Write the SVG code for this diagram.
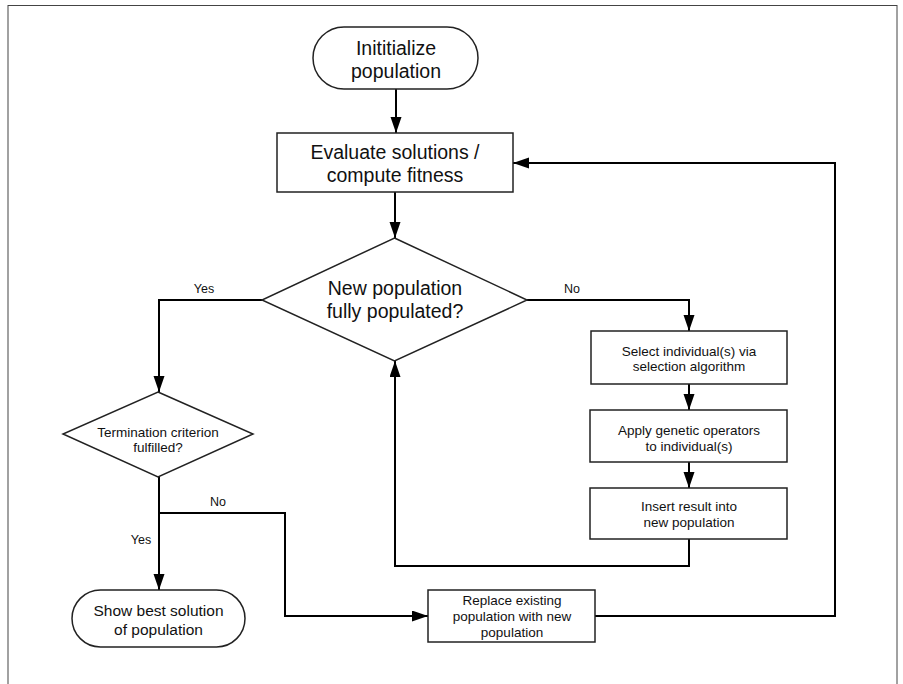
<svg xmlns="http://www.w3.org/2000/svg" width="903" height="684" viewBox="0 0 903 684">
<defs>
<marker id="arr" markerUnits="userSpaceOnUse" markerWidth="17" markerHeight="12" refX="16" refY="5.5" orient="auto">
<path d="M0,0 L16,5.5 L0,11 z" fill="#000"/>
</marker>
<style>
.node{fill:#fff;stroke:#222;stroke-width:1.5}
.t{font-family:"Liberation Sans",Arial,sans-serif;fill:#111;text-anchor:middle}
.big{font-size:19.5px}
.mid{font-size:15.5px}
.sm{font-size:13.5px}
.lbl{font-size:12.5px}
.c{fill:none;stroke:#000;stroke-width:2}
.ca{fill:none;stroke:#000;stroke-width:2;marker-end:url(#arr)}
</style>
</defs>
<rect x="0" y="0" width="903" height="684" fill="#fff"/>
<rect id="frame" x="8" y="5.5" width="889" height="700" fill="none" stroke="#444" stroke-width="1"/>

<g id="connectors">
<path class="ca" d="M396,89 L396,133"/>
<path class="ca" d="M395,192 L395,238"/>
<path class="ca" d="M262,300 L159,300 L159,392"/>
<path class="ca" d="M527,300 L689,300 L689,331"/>
<path class="ca" d="M689,384 L689,410"/>
<path class="ca" d="M689,462 L689,488"/>
<path class="ca" d="M689,539 L689,566 L395,566 L395,361"/>
<path class="ca" d="M159,477 L159,590"/>
<path class="ca" d="M159,513 L285,513 L285,616 L428,616"/>
<path class="ca" d="M595,616 L835,616 L835,163 L513,163"/>
<text class="t lbl" x="204" y="293">Yes</text>
<text class="t lbl" x="572" y="293">No</text>
<text class="t lbl" x="218" y="506">No</text>
<text class="t lbl" x="141" y="544">Yes</text>
</g>

<g id="init">
<rect class="node" x="313" y="27" width="165" height="62" rx="31" ry="31"/>
<text class="t big" x="396" y="55">Inititialize</text>
<text class="t big" x="396" y="78">population</text>
</g>

<g id="evaluate">
<rect class="node" x="277" y="133" width="236" height="59"/>
<text class="t big" x="395" y="159">Evaluate solutions /</text>
<text class="t big" x="395" y="182">compute fitness</text>
</g>

<g id="full">
<polygon class="node" points="394.5,238 527,300 394.5,361 262,300"/>
<text class="t big" x="395" y="295">New population</text>
<text class="t big" x="395" y="318">fully populated?</text>
</g>

<g id="select">
<rect class="node" x="591" y="331" width="196" height="53"/>
<text class="t sm" x="689" y="356">Select individual(s) via</text>
<text class="t sm" x="689" y="371">selection algorithm</text>
</g>

<g id="apply">
<rect class="node" x="590" y="410" width="197" height="52"/>
<text class="t sm" x="689" y="435">Apply genetic operators</text>
<text class="t sm" x="689" y="451">to individual(s)</text>
</g>

<g id="insert">
<rect class="node" x="590" y="488" width="197" height="51"/>
<text class="t sm" x="689" y="511">Insert result into</text>
<text class="t sm" x="689" y="527">new population</text>
</g>

<g id="termination">
<polygon class="node" points="158,392 253,434 158,477 63,434"/>
<text class="t sm" x="158" y="437">Termination criterion</text>
<text class="t sm" x="158" y="452">fulfilled?</text>
</g>

<g id="show">
<rect class="node" x="72" y="590" width="173" height="57" rx="28.5" ry="28.5"/>
<text class="t mid" x="158.5" y="616">Show best solution</text>
<text class="t mid" x="158.5" y="635">of population</text>
</g>

<g id="replace">
<rect class="node" x="428" y="590" width="167" height="52"/>
<text class="t sm" x="512" y="605">Replace existing</text>
<text class="t sm" x="512" y="621">population with new</text>
<text class="t sm" x="512" y="637">population</text>
</g>
</svg>
